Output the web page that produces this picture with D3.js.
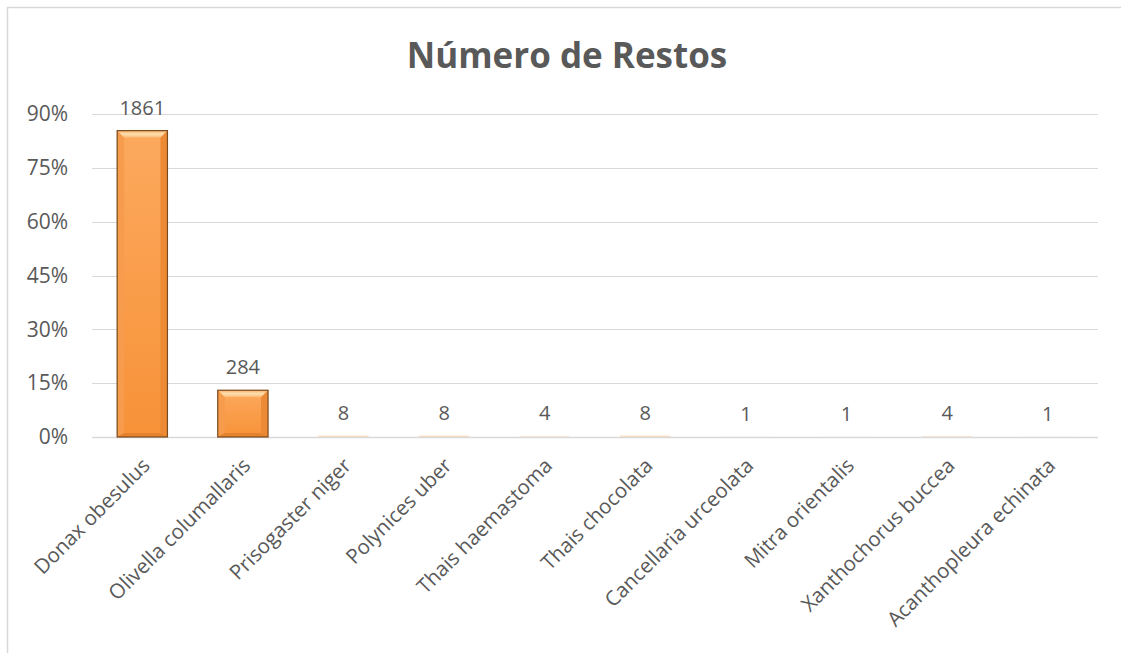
<!DOCTYPE html>
<html>
<head>
<meta charset="utf-8">
<script src="https://cdn.jsdelivr.net/npm/d3@7"></script>
<style>
  body { margin: 0; background: #fff; }
  svg { display: block; }
  text { font-family: "Open Sans", "Liberation Sans", sans-serif; fill: #595959; }
</style>
</head>
<body>
<svg id="chart" width="1121" height="653"></svg>
<script>
// data
var species = ["Donax obesulus", "Olivella columallaris", "Prisogaster niger", "Polynices uber",
  "Thais haemastoma", "Thais chocolata", "Cancellaria urceolata", "Mitra orientalis",
  "Xanthochorus buccea", "Acanthopleura echinata"];
var counts = [1861, 284, 8, 8, 4, 8, 1, 1, 4, 1];
var yTicks = [0, 0.15, 0.30, 0.45, 0.60, 0.75, 0.90];

var total = d3.sum(counts);
var rows = species.map(function(s, i){ return {name: s, n: counts[i], p: counts[i] / total}; });

var svg = d3.select("#chart");

// outer chart border (only left/top visible)
svg.append("rect")
  .attr("x", 7.5).attr("y", 7.5)
  .attr("width", 1130).attr("height", 680)
  .style("fill", "none").style("stroke", "#d9d9d9").style("stroke-width", 1.5);

var x = d3.scaleBand().domain(species).range([92, 1098]).paddingInner(0.5).paddingOuter(0.25);
var y = d3.scaleLinear().domain([0, 0.9]).range([437, 114]);

// title
svg.append("text")
  .attr("x", 567).attr("y", 68)
  .attr("text-anchor", "middle")
  .style("font-size", "35px").style("font-weight", "bold")
  .text("Número de Restos");

// gridlines
svg.append("g").selectAll("line")
  .data(yTicks)
  .enter().append("line")
  .attr("x1", 92).attr("x2", 1098)
  .attr("y1", function(d){ return Math.round(y(d)) + 0.5; })
  .attr("y2", function(d){ return Math.round(y(d)) + 0.5; })
  .style("stroke", "#d9d9d9").style("stroke-width", function(d){ return d == 0 ? 1.5 : 1; });

// y axis labels
var yAxis = d3.axisLeft(y).tickValues(yTicks).tickFormat(d3.format(".0%")).tickSize(0).tickPadding(0);
var gy = svg.append("g").attr("transform", "translate(68,0)").call(yAxis);
gy.select(".domain").remove();
gy.selectAll("text").style("font-size", "21px").style("fill", "#595959")
  .style("font-family", "'Open Sans', sans-serif");

// bar fill
var defs = svg.append("defs");
var grad = defs.append("linearGradient").attr("id", "barGrad")
  .attr("x1", 0).attr("y1", 0).attr("x2", 0).attr("y2", 1);
grad.append("stop").attr("offset", "0%").attr("stop-color", "#fca95e");
grad.append("stop").attr("offset", "100%").attr("stop-color", "#f79238");
var topGrad = defs.append("linearGradient").attr("id", "topGrad")
  .attr("x1", 0).attr("y1", 0).attr("x2", 0).attr("y2", 1);
topGrad.append("stop").attr("offset", "0%").attr("stop-color", "#fcb06a");
topGrad.append("stop").attr("offset", "50%").attr("stop-color", "#fde0b0");
topGrad.append("stop").attr("offset", "100%").attr("stop-color", "#fcb772");

var bars = svg.append("g").selectAll("g.bar")
  .data(rows)
  .enter().append("g").attr("class", "bar");

bars.append("rect")
  .attr("x", function(d){ return x(d.name); })
  .attr("y", function(d){ return y(d.p); })
  .attr("width", x.bandwidth())
  .attr("height", function(d){ return y(0) - y(d.p); })
  .style("fill", function(d){ return d.n > 50 ? "url(#barGrad)" : "#fbd9bd"; });

// bevel for the visible bars
var big = bars.filter(function(d){ return d.n > 50; });
var bev = 7;
function bevel(cls, fill, pts){
  big.append("path")
    .attr("d", function(d){
      var x0 = x(d.name), x1 = x0 + x.bandwidth(), y0 = y(d.p), y1 = y(0);
      return "M" + pts(x0, x1, y0, y1).join("L") + "Z";
    })
    .style("fill", fill);
}
bevel("top", "url(#topGrad)", function(x0, x1, y0, y1){
  return [[x0, y0], [x1, y0], [x1 - bev, y0 + bev], [x0 + bev, y0 + bev]];
});
bevel("left", "#f69c4c", function(x0, x1, y0, y1){
  return [[x0, y0], [x0 + bev, y0 + bev], [x0 + bev, y1 - 4], [x0, y1]];
});
bevel("right", "#ec8a36", function(x0, x1, y0, y1){
  return [[x1, y0], [x1 - bev, y0 + bev], [x1 - bev, y1 - 4], [x1, y1]];
});
bevel("bottom", "#e4822e", function(x0, x1, y0, y1){
  return [[x0, y1], [x0 + bev, y1 - 4], [x1 - bev, y1 - 4], [x1, y1]];
});
big.append("rect")
  .attr("x", function(d){ return x(d.name); })
  .attr("y", function(d){ return y(d.p); })
  .attr("width", x.bandwidth())
  .attr("height", function(d){ return y(0) - y(d.p); })
  .style("fill", "none").style("stroke", "#7a4a1e").style("stroke-width", 1.2);

// value labels
bars.append("text")
  .attr("x", function(d){ return x(d.name) + x.bandwidth() / 2; })
  .attr("y", function(d){ return y(d.p) - 16; })
  .attr("text-anchor", "middle")
  .style("font-size", "20px")
  .text(function(d){ return d.n; });

// category labels
svg.append("g").selectAll("text")
  .data(species)
  .enter().append("text")
  .attr("transform", function(d){
    return "translate(" + (x(d) + x.bandwidth() / 2 - 2) + ",456) rotate(-45)";
  })
  .attr("text-anchor", "end")
  .attr("dy", "0.75em")
  .style("font-size", "20.5px")
  .text(function(d){ return d; });
</script>
</body>
</html>
